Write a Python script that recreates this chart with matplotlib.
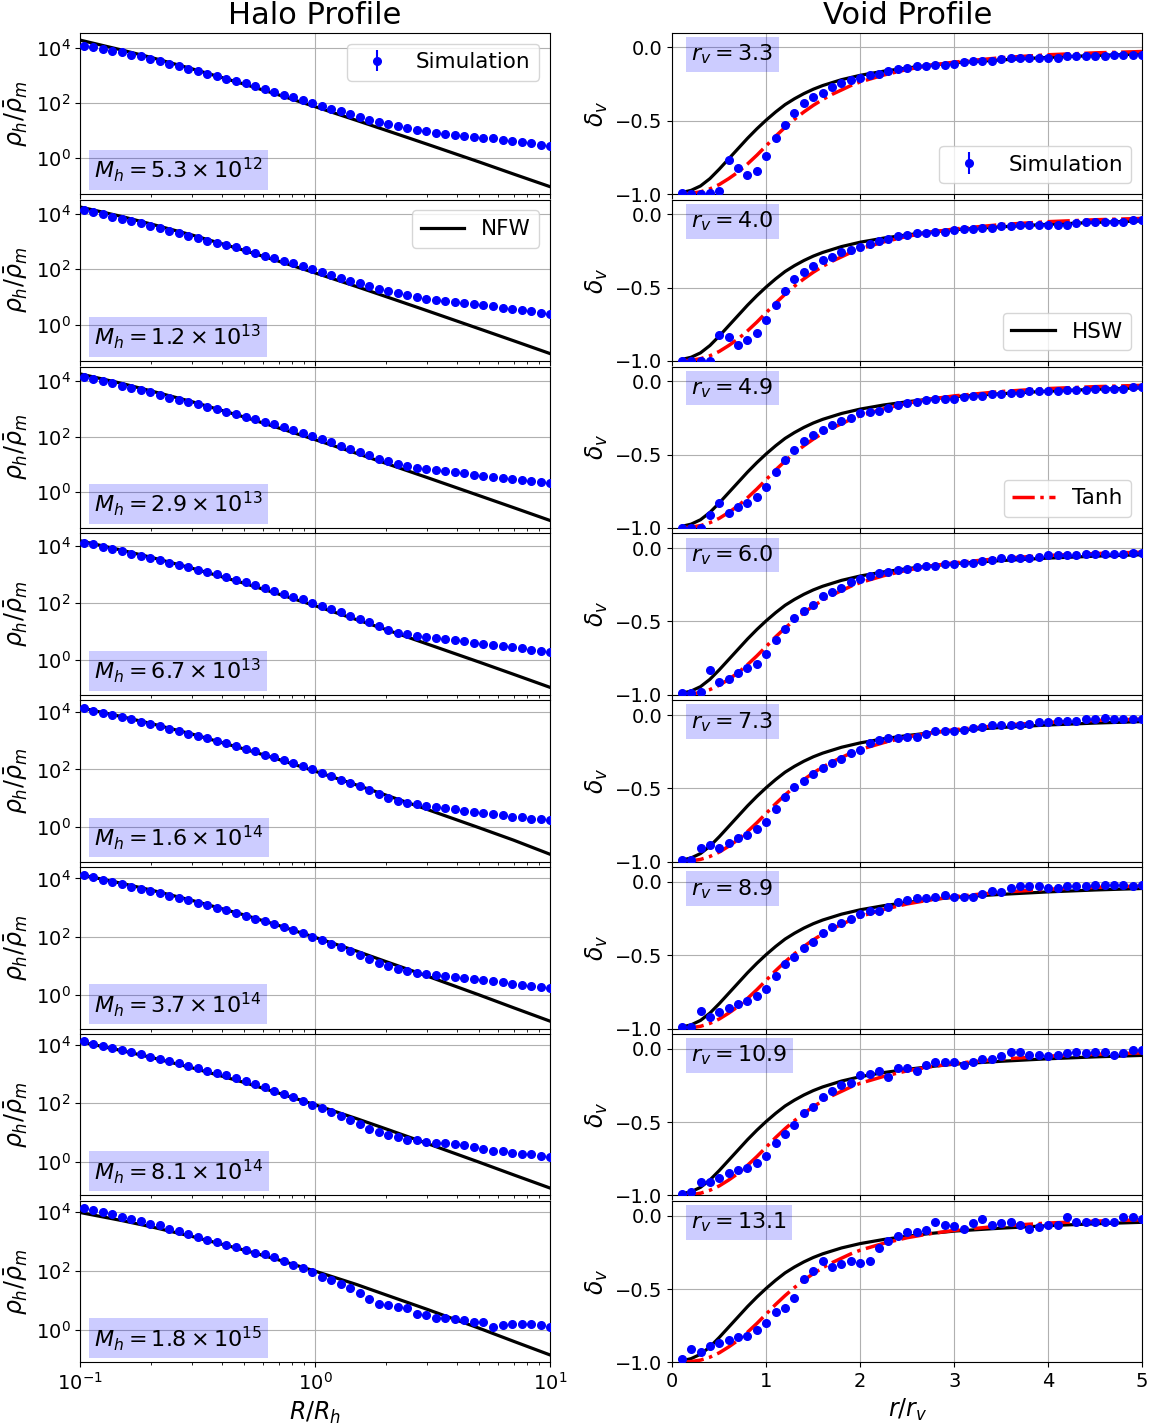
import numpy as np
import matplotlib.pyplot as plt

plt.rcParams.update({"xtick.labelsize": 14, "ytick.labelsize": 14})

# ---- data -------------------------------------------------------------
# halo profiles: log10(rho_h / rho_m) on a log-spaced grid in R/R_h
halo_r = np.logspace(-0.985, 1.0, 50)
halo_mass_mant = ["5.3", "1.2", "2.9", "6.7", "1.6", "3.7", "8.1", "1.8"]
halo_mass_exp = [12, 13, 13, 13, 14, 14, 14, 15]
halo_log_rho = [
    [4.10, 4.05, 3.99, 3.91, 3.85, 3.77, 3.71, 3.62, 3.54, 3.44,
     3.34, 3.25, 3.16, 3.08, 2.98, 2.89, 2.81, 2.72, 2.61, 2.52,
     2.42, 2.31, 2.21, 2.10, 2.00, 1.91, 1.80, 1.70, 1.59, 1.50,
     1.40, 1.31, 1.23, 1.15, 1.09, 1.03, 0.97, 0.92, 0.89, 0.85,
     0.81, 0.78, 0.74, 0.71, 0.66, 0.62, 0.58, 0.53, 0.49, 0.44],
    [4.12, 4.05, 3.98, 3.89, 3.81, 3.74, 3.65, 3.57, 3.49, 3.39,
     3.31, 3.21, 3.13, 3.03, 2.95, 2.87, 2.79, 2.69, 2.60, 2.49,
     2.41, 2.31, 2.22, 2.12, 2.01, 1.92, 1.81, 1.70, 1.59, 1.50,
     1.40, 1.31, 1.22, 1.14, 1.07, 1.01, 0.95, 0.90, 0.86, 0.83,
     0.79, 0.74, 0.71, 0.67, 0.62, 0.58, 0.54, 0.49, 0.44, 0.40],
    [4.13, 4.07, 3.99, 3.92, 3.83, 3.75, 3.68, 3.60, 3.50, 3.40,
     3.32, 3.24, 3.17, 3.08, 2.99, 2.90, 2.81, 2.71, 2.62, 2.52,
     2.44, 2.33, 2.24, 2.13, 2.02, 1.92, 1.81, 1.68, 1.57, 1.45,
     1.33, 1.20, 1.11, 1.01, 0.94, 0.89, 0.85, 0.80, 0.76, 0.73,
     0.68, 0.63, 0.58, 0.55, 0.51, 0.48, 0.44, 0.40, 0.37, 0.32],
    [4.12, 4.06, 3.98, 3.89, 3.82, 3.74, 3.66, 3.58, 3.50, 3.42,
     3.35, 3.25, 3.17, 3.09, 3.01, 2.90, 2.81, 2.72, 2.62, 2.52,
     2.42, 2.33, 2.22, 2.12, 2.00, 1.89, 1.79, 1.67, 1.55, 1.44,
     1.31, 1.17, 1.05, 0.95, 0.89, 0.84, 0.79, 0.76, 0.73, 0.69,
     0.64, 0.60, 0.56, 0.52, 0.47, 0.43, 0.40, 0.35, 0.32, 0.26],
    [4.13, 4.05, 3.98, 3.90, 3.81, 3.74, 3.66, 3.58, 3.50, 3.42,
     3.33, 3.24, 3.16, 3.08, 3.00, 2.91, 2.81, 2.72, 2.63, 2.52,
     2.43, 2.34, 2.23, 2.12, 2.00, 1.88, 1.78, 1.65, 1.53, 1.41,
     1.28, 1.14, 1.01, 0.92, 0.85, 0.79, 0.73, 0.69, 0.65, 0.62,
     0.57, 0.52, 0.49, 0.45, 0.41, 0.36, 0.33, 0.29, 0.27, 0.23],
    [4.11, 4.03, 3.95, 3.87, 3.79, 3.72, 3.64, 3.56, 3.48, 3.40,
     3.32, 3.24, 3.16, 3.08, 2.99, 2.90, 2.80, 2.71, 2.62, 2.53,
     2.44, 2.34, 2.24, 2.12, 1.99, 1.87, 1.76, 1.63, 1.49, 1.35,
     1.23, 1.09, 0.97, 0.89, 0.83, 0.76, 0.72, 0.68, 0.63, 0.60,
     0.56, 0.53, 0.49, 0.46, 0.43, 0.38, 0.34, 0.31, 0.26, 0.22],
    [4.11, 4.02, 3.97, 3.89, 3.81, 3.75, 3.67, 3.59, 3.51, 3.44,
     3.36, 3.28, 3.19, 3.11, 3.02, 2.95, 2.86, 2.75, 2.65, 2.57,
     2.43, 2.33, 2.20, 2.09, 1.95, 1.83, 1.69, 1.58, 1.44, 1.30,
     1.14, 1.01, 0.91, 0.84, 0.76, 0.74, 0.67, 0.64, 0.65, 0.63,
     0.59, 0.52, 0.44, 0.39, 0.36, 0.32, 0.28, 0.26, 0.22, 0.17],
    [4.11, 4.07, 3.98, 3.91, 3.83, 3.76, 3.67, 3.59, 3.54, 3.41,
     3.33, 3.25, 3.16, 3.05, 2.96, 2.87, 2.82, 2.72, 2.62, 2.56,
     2.46, 2.32, 2.19, 2.09, 1.97, 1.80, 1.69, 1.54, 1.42, 1.24,
     1.06, 0.88, 0.84, 0.79, 0.73, 0.55, 0.51, 0.42, 0.41, 0.37,
     0.35, 0.26, 0.29, 0.12, 0.18, 0.20, 0.21, 0.20, 0.18, 0.09],
]

# NFW fits, log10(rho/rho_m), read at these radii
nfw_r = [0.1, 0.15, 0.2, 0.3, 0.5, 0.7, 1.0, 1.5, 2.0, 3.0, 5.0, 7.0, 10.0]
nfw_log_rho = [
    [4.30, 3.94, 3.67, 3.25, 2.69, 2.30, 1.87, 1.37, 1.01, 0.50, -0.15, -0.59, -1.05],
    [4.24, 3.90, 3.63, 3.23, 2.68, 2.29, 1.87, 1.38, 1.02, 0.51, -0.14, -0.57, -1.03],
    [4.25, 3.91, 3.64, 3.25, 2.70, 2.31, 1.89, 1.40, 1.04, 0.53, -0.12, -0.55, -1.01],
    [4.19, 3.86, 3.61, 3.22, 2.69, 2.31, 1.90, 1.41, 1.06, 0.55, -0.09, -0.52, -0.98],
    [4.15, 3.84, 3.60, 3.23, 2.71, 2.35, 1.94, 1.46, 1.11, 0.61, -0.03, -0.46, -0.95],
    [4.13, 3.83, 3.60, 3.24, 2.74, 2.38, 1.97, 1.50, 1.14, 0.64, -0.01, -0.45, -0.91],
    [4.10, 3.80, 3.57, 3.21, 2.71, 2.35, 1.95, 1.48, 1.13, 0.63, -0.01, -0.44, -0.89],
    [3.97, 3.70, 3.49, 3.16, 2.70, 2.37, 1.99, 1.54, 1.19, 0.70, 0.06, -0.38, -0.84],
]

# void profiles
void_r = np.arange(1, 51) * 0.1
void_radius = [3.3, 4.0, 4.9, 6.0, 7.3, 8.9, 10.9, 13.1]
void_delta = [
    [-0.99, -1.00, -1.00, -0.99, -0.98, -0.77, -0.82, -0.87, -0.84, -0.74,
     -0.62, -0.53, -0.45, -0.38, -0.34, -0.31, -0.27, -0.24, -0.22, -0.21,
     -0.19, -0.18, -0.16, -0.15, -0.14, -0.13, -0.13, -0.12, -0.12, -0.11,
     -0.10, -0.09, -0.09, -0.09, -0.08, -0.07, -0.07, -0.07, -0.07, -0.07,
     -0.07, -0.06, -0.06, -0.06, -0.06, -0.06, -0.05, -0.05, -0.05, -0.05],
    [-1.00, -1.00, -1.00, -1.00, -0.82, -0.84, -0.89, -0.86, -0.81, -0.72,
     -0.62, -0.52, -0.44, -0.39, -0.35, -0.31, -0.29, -0.26, -0.24, -0.22,
     -0.20, -0.18, -0.17, -0.15, -0.14, -0.13, -0.13, -0.12, -0.12, -0.11,
     -0.10, -0.10, -0.09, -0.09, -0.08, -0.08, -0.07, -0.07, -0.07, -0.07,
     -0.07, -0.07, -0.06, -0.05, -0.05, -0.05, -0.05, -0.05, -0.04, -0.04],
    [-1.00, -1.00, -1.00, -0.91, -0.83, -0.90, -0.86, -0.83, -0.79, -0.72,
     -0.62, -0.54, -0.47, -0.41, -0.37, -0.33, -0.30, -0.27, -0.25, -0.22,
     -0.21, -0.20, -0.18, -0.16, -0.15, -0.14, -0.13, -0.12, -0.12, -0.12,
     -0.11, -0.10, -0.10, -0.09, -0.09, -0.08, -0.08, -0.07, -0.07, -0.07,
     -0.07, -0.06, -0.06, -0.06, -0.05, -0.05, -0.05, -0.05, -0.04, -0.04],
    [-0.99, -0.99, -0.98, -0.83, -0.91, -0.89, -0.85, -0.82, -0.79, -0.72,
     -0.63, -0.55, -0.48, -0.43, -0.39, -0.33, -0.30, -0.27, -0.23, -0.21,
     -0.19, -0.17, -0.16, -0.15, -0.14, -0.13, -0.12, -0.12, -0.11, -0.11,
     -0.10, -0.10, -0.09, -0.08, -0.07, -0.07, -0.07, -0.07, -0.06, -0.05,
     -0.05, -0.05, -0.05, -0.04, -0.04, -0.04, -0.04, -0.04, -0.03, -0.03],
    [-0.99, -0.99, -0.91, -0.89, -0.91, -0.87, -0.84, -0.82, -0.78, -0.73,
     -0.64, -0.56, -0.49, -0.45, -0.40, -0.36, -0.33, -0.30, -0.26, -0.24,
     -0.19, -0.17, -0.16, -0.16, -0.15, -0.15, -0.13, -0.11, -0.11, -0.11,
     -0.10, -0.09, -0.08, -0.07, -0.07, -0.07, -0.07, -0.06, -0.05, -0.05,
     -0.04, -0.04, -0.04, -0.03, -0.03, -0.02, -0.03, -0.03, -0.03, -0.03],
    [-0.99, -0.99, -0.88, -0.92, -0.89, -0.86, -0.83, -0.81, -0.78, -0.73,
     -0.64, -0.56, -0.51, -0.45, -0.41, -0.35, -0.31, -0.28, -0.25, -0.22,
     -0.20, -0.20, -0.17, -0.14, -0.12, -0.11, -0.11, -0.10, -0.09, -0.10,
     -0.10, -0.10, -0.08, -0.06, -0.07, -0.04, -0.03, -0.03, -0.03, -0.04,
     -0.04, -0.03, -0.03, -0.03, -0.02, -0.02, -0.02, -0.02, -0.03, -0.02],
    [-0.99, -0.98, -0.91, -0.91, -0.88, -0.85, -0.83, -0.81, -0.78, -0.73,
     -0.64, -0.58, -0.52, -0.44, -0.40, -0.33, -0.29, -0.25, -0.23, -0.18,
     -0.17, -0.15, -0.19, -0.13, -0.13, -0.15, -0.11, -0.09, -0.09, -0.09,
     -0.11, -0.09, -0.07, -0.07, -0.05, -0.02, -0.02, -0.04, -0.04, -0.05,
     -0.04, -0.03, -0.02, -0.03, -0.02, -0.02, -0.04, -0.03, -0.01, -0.01],
    [-0.98, -0.91, -0.93, -0.89, -0.87, -0.85, -0.83, -0.82, -0.78, -0.73,
     -0.66, -0.63, -0.56, -0.43, -0.38, -0.31, -0.35, -0.33, -0.31, -0.32,
     -0.31, -0.22, -0.17, -0.14, -0.11, -0.11, -0.10, -0.04, -0.06, -0.07,
     -0.09, -0.05, -0.02, -0.06, -0.05, -0.04, -0.06, -0.09, -0.08, -0.06,
     -0.06, -0.01, -0.04, -0.04, -0.04, -0.04, -0.04, -0.01, -0.01, -0.02],
]

# HSW and tanh fits (same in every panel)
model_r = [0.1, 0.2, 0.3, 0.4, 0.5, 0.6, 0.7, 0.8, 0.9, 1.0,
           1.1, 1.2, 1.3, 1.4, 1.5, 1.6, 1.7, 1.8, 1.9, 2.0,
           2.25, 2.5, 2.75, 3.0, 3.5, 4.0, 4.5, 5.0]
hsw_delta = [-0.99, -0.975, -0.945, -0.895, -0.83, -0.76, -0.69, -0.62, -0.555, -0.495,
             -0.44, -0.39, -0.35, -0.315, -0.285, -0.26, -0.24, -0.22, -0.205, -0.19,
             -0.162, -0.14, -0.121, -0.105, -0.085, -0.068, -0.055, -0.045]
tanh_delta = [-1.0, -0.995, -0.985, -0.965, -0.935, -0.895, -0.85, -0.795, -0.735, -0.67,
              -0.605, -0.545, -0.49, -0.44, -0.395, -0.355, -0.32, -0.29, -0.26, -0.235,
              -0.188, -0.15, -0.122, -0.10, -0.07, -0.05, -0.037, -0.028]

# ---- plot -------------------------------------------------------------
fig, axes = plt.subplots(8, 2, figsize=(11.62, 14.25), dpi=100, sharex="col")
fig.subplots_adjust(left=0.069, right=0.983, top=0.977, bottom=0.044,
                    hspace=0.035, wspace=0.26)

box = dict(facecolor="blue", alpha=0.2, edgecolor="none")

for i in range(8):
    ax = axes[i, 0]
    sim = ax.errorbar(halo_r, 10 ** np.array(halo_log_rho[i]), yerr=0, fmt="o",
                      color="blue", ms=5.5, zorder=3)
    nfw, = ax.plot(nfw_r, 10 ** np.array(nfw_log_rho[i]), "k-", lw=2.3)
    ax.set_xscale("log")
    ax.set_yscale("log")
    ax.set_xlim(0.1, 10)
    ax.set_yticks([1e0, 1e2, 1e4])
    ax.yaxis.set_minor_locator(plt.NullLocator())
    ax.grid(True)
    ax.set_ylabel(r"$\rho_h/\bar{\rho}_m$", fontsize=17)
    ax.text(0.03, 0.1, r"$M_h = %s \times 10^{%d}$" % (halo_mass_mant[i], halo_mass_exp[i]),
            transform=ax.transAxes, fontsize=16, bbox=box)
    if i == 0:
        ax.set_title("Halo Profile", fontsize=22)
        ax.legend([sim], ["Simulation"], loc="upper right", fontsize=15.5)
    if i == 1:
        ax.legend([nfw], ["NFW"], loc="upper right", fontsize=15.5)

    ax = axes[i, 1]
    sim = ax.errorbar(void_r, void_delta[i], yerr=0, fmt="o", color="blue",
                      ms=5.5, zorder=3)
    hsw, = ax.plot(model_r, hsw_delta, "k-", lw=2.3)
    th, = ax.plot(model_r, tanh_delta, color="red", ls="-.", lw=2.5)
    ax.set_xlim(0, 5)
    ax.set_ylim(-1.0, 0.1)
    ax.set_yticks([-1.0, -0.5, 0.0])
    ax.grid(True)
    ax.set_ylabel(r"$\delta_v$", fontsize=17)
    ax.text(0.04, 0.94, r"$r_v = %.1f$" % void_radius[i], transform=ax.transAxes,
            fontsize=16, va="top", bbox=box)
    if i == 0:
        ax.set_title("Void Profile", fontsize=22)
        ax.legend([sim], ["Simulation"], loc="lower right", fontsize=15.5)
    if i == 1:
        ax.legend([hsw], ["HSW"], loc="lower right", fontsize=15.5)
    if i == 2:
        ax.legend([th], ["Tanh"], loc="lower right", fontsize=15.5)

axes[-1, 0].set_xlabel(r"$R/R_h$", fontsize=17)
axes[-1, 1].set_xlabel(r"$r/r_v$", fontsize=17)

plt.savefig("out.png", dpi=100)
